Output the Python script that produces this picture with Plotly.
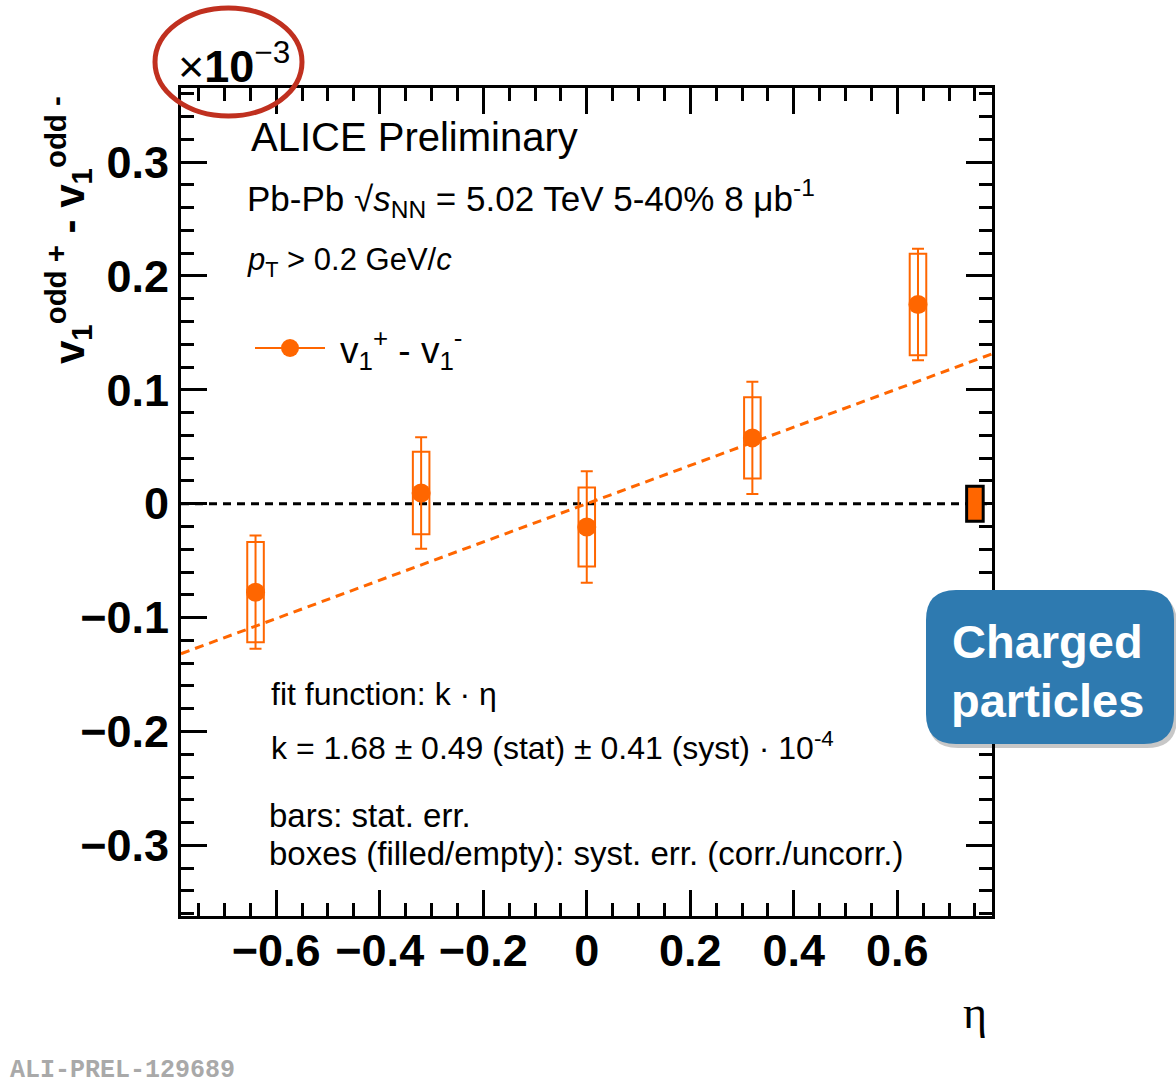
import plotly.graph_objects as go

# ---------------- data (values in units of 1e-3) ----------------
eta = [-0.64, -0.32, 0.0, 0.32, 0.64]
dv1 = [-0.0777, 0.0094, -0.0205, 0.0578, 0.1749]
stat_err = [0.0497, 0.0490, 0.0489, 0.0492, 0.0490]
syst_uncorr = [0.0440, 0.0362, 0.0347, 0.0357, 0.0446]
box_halfwidth = 0.016
corr_x = [0.75]
corr_y = [0.0]
corr_syst = [0.0153]
fit_k = 0.168            # k = 1.68e-4 -> 0.168 in units of 1e-3
x_range = [-0.784, 0.783]
y_range = [-0.362, 0.365]
y_ticks = [-0.3, -0.2, -0.1, 0.0, 0.1, 0.2, 0.3]
x_ticks = [-0.6, -0.4, -0.2, 0.0, 0.2, 0.4, 0.6]

ORANGE = "#ff6600"
W, H = 1176, 1086
L, R, T, B = 181, 992, 88, 916


def px(xp):
    return (xp - L) / (R - L)


def py(yp):
    return (B - yp) / (B - T)


fig = go.Figure()

# fit line
fig.add_trace(go.Scatter(
    x=x_range, y=[fit_k * v for v in x_range], mode="lines",
    line=dict(color=ORANGE, width=3, dash="9px,6px"), hoverinfo="skip"))

# data points with stat errors
fig.add_trace(go.Scatter(
    x=eta, y=dv1, mode="markers",
    marker=dict(color=ORANGE, size=19, line=dict(width=0)),
    error_y=dict(type="data", array=stat_err, color=ORANGE, thickness=2, width=6)))

shapes = []
# zero line
shapes.append(dict(type="line", xref="paper", yref="y", x0=0, x1=1, y0=0, y1=0,
                   line=dict(color="black", width=3, dash="8px,6px"), layer="below"))
# uncorrelated syst boxes
for xv, yv, s in zip(eta, dv1, syst_uncorr):
    shapes.append(dict(type="rect", xref="x", yref="y",
                       x0=xv - box_halfwidth, x1=xv + box_halfwidth,
                       y0=yv - s, y1=yv + s,
                       line=dict(color=ORANGE, width=2), fillcolor="rgba(0,0,0,0)",
                       layer="below"))
# correlated syst box
for xv, yv, s in zip(corr_x, corr_y, corr_syst):
    shapes.append(dict(type="rect", xref="x", yref="y",
                       x0=xv - box_halfwidth, x1=xv + box_halfwidth,
                       y0=yv - s, y1=yv + s,
                       line=dict(color="black", width=3), fillcolor=ORANGE, layer="above"))

# legend sample (line + marker)
shapes.append(dict(type="line", xref="paper", yref="paper", x0=px(255), x1=px(325),
                   y0=py(348), y1=py(348), line=dict(color=ORANGE, width=2)))
shapes.append(dict(type="circle", xref="paper", yref="paper", x0=px(281), x1=px(299),
                   y0=py(357), y1=py(339), fillcolor=ORANGE, line=dict(width=0)))

# red ellipse around the multiplier
shapes.append(dict(type="circle", xref="paper", yref="paper", x0=px(155), x1=px(302),
                   y0=py(116), y1=py(8), line=dict(color="#c0301f", width=5)))


def rounded_path(x0, y0, x1, y1, r):
    pts = [
        ("M", [(x0 + r, y0)]), ("L", [(x1 - r, y0)]), ("Q", [(x1, y0), (x1, y0 + r)]),
        ("L", [(x1, y1 - r)]), ("Q", [(x1, y1), (x1 - r, y1)]),
        ("L", [(x0 + r, y1)]), ("Q", [(x0, y1), (x0, y1 - r)]),
        ("L", [(x0, y0 + r)]), ("Q", [(x0, y0), (x0 + r, y0)]),
    ]
    s = ""
    for cmd, ps in pts:
        s += cmd + " " + " ".join(f"{px(a):.5f},{py(b):.5f}" for a, b in ps) + " "
    return s + "Z"


# shadow + blue box
shapes.append(dict(type="path", xref="paper", yref="paper",
                   path=rounded_path(928, 594, 1177, 748, 30),
                   fillcolor="rgba(0,0,0,0.22)", line=dict(width=0)))
shapes.append(dict(type="path", xref="paper", yref="paper",
                   path=rounded_path(926, 590, 1174, 744, 30),
                   fillcolor="#2e7ab0", line=dict(width=0)))

ann = []


def text(x, y, s, size, xanchor="left", yanchor="middle", color="black", family="Liberation Sans"):
    ann.append(dict(x=px(x), y=py(y), xref="paper", yref="paper", text=s, showarrow=False,
                    xanchor=xanchor, yanchor=yanchor,
                    font=dict(size=size, color=color, family=family)))


text(249, 137, "ALICE Preliminary", 40)
text(245, 198, "Pb-Pb √<i>s</i><sub>NN</sub> = 5.02 TeV 5-40% 8 μb<sup>-1</sup>", 35)
text(245, 262, "<i>p</i><sub>T</sub> > 0.2 GeV/<i>c</i>", 31)
text(338, 350, "v<sub>1</sub><sup>+</sup> - v<sub>1</sub><sup>-</sup>", 37)
text(269, 694, "fit function: k · η", 32)
text(269, 746, "k = 1.68 ± 0.49 (stat) ± 0.41 (syst) · 10<sup>-4</sup>", 32)
text(267, 815, "bars: stat. err.", 33)
text(267, 853, "boxes (filled/empty): syst. err. (corr./uncorr.)", 33)
text(176, 63, "×<b>10</b><sup>−3</sup>", 45)
text(975, 1012, "η", 46, xanchor="center", family="Liberation Serif")
text(8, 1070, "<b>ALI-PREL-129689</b>", 25, color="#a9a9a9", family="Liberation Mono")
text(1047, 641, "<b>Charged</b>", 47, xanchor="center", color="white")
text(1047, 700, "<b>particles</b>", 47, xanchor="center", color="white")
ann.append(dict(x=px(68), y=py(230), xref="paper", yref="paper",
                text="<b>v<sub>1</sub><sup>odd +</sup> - v<sub>1</sub><sup>odd -</sup></b>",
                showarrow=False, textangle=-90, xanchor="center", yanchor="middle",
                font=dict(size=42, color="black", family="Liberation Sans")))

axis_common = dict(
    showline=True, linecolor="black", linewidth=3, mirror="ticks",
    ticks="inside", tickcolor="black", tickwidth=2.5, ticklen=26,
    showgrid=False, zeroline=False,
    tickfont=dict(family="Liberation Sans", size=45, color="black", weight="bold"),
)

fig.update_layout(
    width=W, height=H, autosize=False,
    margin=dict(l=L, r=W - R, t=T, b=H - B, pad=0),
    paper_bgcolor="white", plot_bgcolor="white",
    showlegend=False,
    shapes=shapes, annotations=ann,
    xaxis=dict(range=x_range, tickvals=x_ticks,
               minor=dict(ticks="inside", ticklen=13, tickwidth=2.5, tickcolor="black", dtick=0.05, tick0=0),
               ticklabelstandoff=-7, **axis_common),
    yaxis=dict(range=y_range, tickvals=y_ticks,
               minor=dict(ticks="inside", ticklen=13, tickwidth=2.5, tickcolor="black", dtick=0.02, tick0=0),
               ticklabelstandoff=0, **axis_common),
)

fig.write_html("out.html", config={"displayModeBar": False},
               post_script="document.body.style.margin='0px';")
